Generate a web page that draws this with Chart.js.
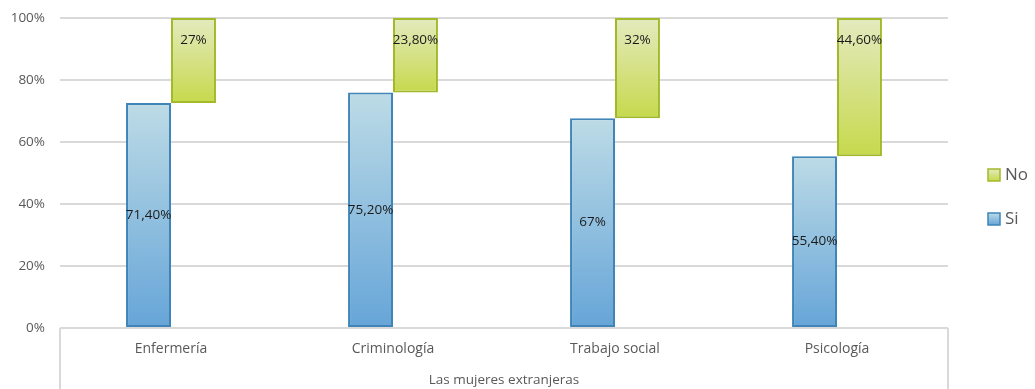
<!DOCTYPE html>
<html>
<head>
<meta charset="utf-8">
<script src="https://cdn.jsdelivr.net/npm/chart.js@4.4.1/dist/chart.umd.min.js"></script>
<style>
  html, body { margin: 0; padding: 0; background: #ffffff; }
  #wrap { width: 1035px; height: 389px; }
</style>
</head>
<body>
<div id="wrap"><canvas id="chart" width="1035" height="389"></canvas></div>
<script>
// Carreras y respuestas (porcentajes declarados)
const categories = ['Enfermería', 'Criminología', 'Trabajo social', 'Psicología'];
const siValues = [71.4, 75.2, 67, 55.4];
const noValues = [27, 23.8, 32, 44.6];
const yTickValues = [0, 20, 40, 60, 80, 100];
const groupTitle = 'Las mujeres extranjeras';
const seriesNames = ['Si', 'No'];

const FONT = '"Open Sans", "DejaVu Sans", sans-serif';
const GREY_TEXT = '#595959';
const GRID = '#d9d9d9';

// 100% stacked: each answer as a share of the category total
const siShare = siValues.map((v, i) => v / (v + noValues[i]) * 100);

const fmt = v => (Number.isInteger(v) ? String(v) : v.toFixed(2).replace('.', ',')) + '%';

function verticalGradient(ctx, top, bottom, c0, c1) {
  const g = ctx.createLinearGradient(0, top, 0, bottom);
  g.addColorStop(0, c0);
  g.addColorStop(1, c1);
  return g;
}

function barFill(c0, c1, fallback) {
  return context => {
    const chart = context.chart;
    const y = chart.scales && chart.scales.y;
    const raw = context.raw;
    if (!y || !chart.chartArea || !Array.isArray(raw)) return fallback;
    const top = y.getPixelForValue(raw[1]);
    const bottom = y.getPixelForValue(raw[0]);
    return verticalGradient(chart.ctx, top, bottom, c0, c1);
  };
}

const SI = { top: '#bddbe6', bottom: '#66a5d8', border: '#3f85b8' };
const NO = { top: '#e4eabf', bottom: '#c6d94c', border: '#a2b92a' };

// Value labels: centred in "Si", near the top inside "No"
const valueLabels = {
  id: 'valueLabels',
  afterDatasetsDraw(chart) {
    const ctx = chart.ctx;
    ctx.save();
    ctx.font = '13.5px ' + FONT;
    ctx.fillStyle = '#1a1a1a';
    ctx.textAlign = 'center';
    ctx.textBaseline = 'middle';
    chart.getDatasetMeta(0).data.forEach((el, i) => {
      ctx.fillText(fmt(siValues[i]), el.x, (el.y + el.base) / 2);
    });
    chart.getDatasetMeta(1).data.forEach((el, i) => {
      ctx.fillText(fmt(noValues[i]), el.x, el.y + 22);
    });
    ctx.restore();
  }
};

// Category band frame, group title and legend
const decorations = {
  id: 'decorations',
  afterDraw(chart) {
    const ctx = chart.ctx;
    const a = chart.chartArea;
    ctx.save();
    ctx.strokeStyle = GRID;
    ctx.lineWidth = 2;
    ctx.beginPath();
    ctx.moveTo(a.left, a.bottom);
    ctx.lineTo(a.left, chart.height);
    ctx.moveTo(a.right, a.bottom);
    ctx.lineTo(a.right, chart.height);
    ctx.stroke();

    ctx.font = '13.5px ' + FONT;
    ctx.fillStyle = GREY_TEXT;
    ctx.textAlign = 'center';
    ctx.textBaseline = 'middle';
    ctx.fillText(groupTitle, (a.left + a.right) / 2, 380);

    const items = [
      { name: seriesNames[1], c: NO, y: 175 },
      { name: seriesNames[0], c: SI, y: 219 }
    ];
    items.forEach(it => {
      const x = 988, s = 12;
      ctx.fillStyle = verticalGradient(ctx, it.y - s / 2, it.y + s / 2, it.c.top, it.c.bottom);
      ctx.fillRect(x, it.y - s / 2, s, s);
      ctx.strokeStyle = it.c.border;
      ctx.lineWidth = 1.5;
      ctx.strokeRect(x, it.y - s / 2, s, s);
      ctx.font = '17px ' + FONT;
      ctx.fillStyle = GREY_TEXT;
      ctx.textAlign = 'left';
      ctx.fillText(it.name, x + 17, it.y);
    });
    ctx.restore();
  }
};

new Chart(document.getElementById('chart'), {
  type: 'bar',
  data: {
    labels: categories,
    datasets: [
      {
        label: seriesNames[0],
        data: siShare.map(s => [0, s]),
        backgroundColor: barFill(SI.top, SI.bottom, SI.bottom),
        borderColor: SI.border,
        borderWidth: 2,
        borderSkipped: false
      },
      {
        label: seriesNames[1],
        data: siShare.map(s => [s, 100]),
        backgroundColor: barFill(NO.top, NO.bottom, NO.bottom),
        borderColor: NO.border,
        borderWidth: 2,
        borderSkipped: false
      }
    ]
  },
  options: {
    responsive: false,
    animation: false,
    devicePixelRatio: 1,
    layout: { padding: { top: 18, right: 87, left: 0, bottom: 0 } },
    categoryPercentage: 0.405,
    barPercentage: 1,
    plugins: {
      legend: { display: false },
      tooltip: { enabled: false }
    },
    scales: {
      x: {
        grid: { display: false, drawTicks: false },
        border: { display: false },
        ticks: {
          color: GREY_TEXT,
          font: { family: FONT, size: 14 },
          padding: 13,
          maxRotation: 0
        },
        afterFit: scale => { scale.height = 61; }
      },
      y: {
        min: 0,
        max: 100,
        afterBuildTicks: scale => { scale.ticks = yTickValues.map(v => ({ value: v })); },
        grid: { color: GRID, lineWidth: 2, drawTicks: false },
        border: { display: false },
        ticks: {
          color: GREY_TEXT,
          font: { family: FONT, size: 13.5 },
          padding: 15,
          callback: v => v + '%'
        },
        afterFit: scale => {
          scale.width = 60;
          scale.paddingTop = 0;
          scale.paddingBottom = 0;
        }
      }
    }
  },
  plugins: [valueLabels, decorations]
});
</script>
</body>
</html>
